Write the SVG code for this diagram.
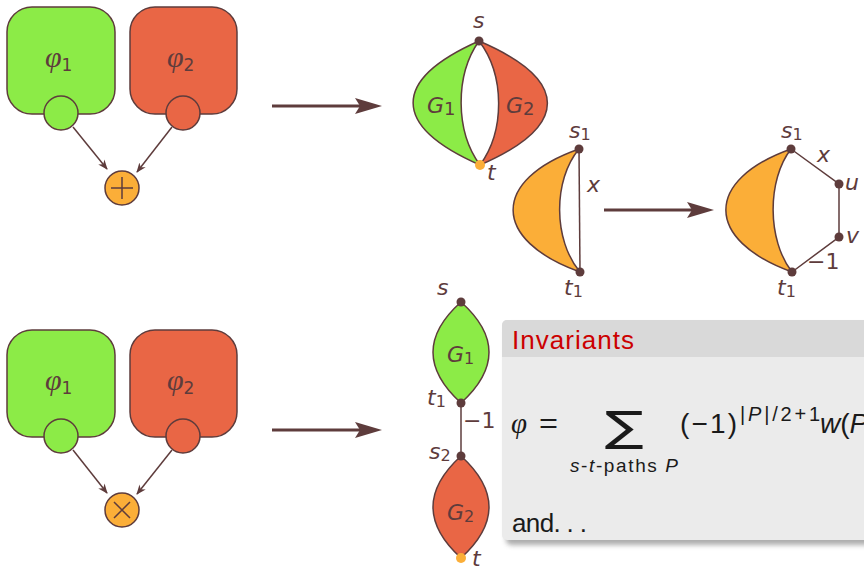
<svg xmlns="http://www.w3.org/2000/svg" width="864" height="570" viewBox="0 0 864 570">
<defs>
<style>
.st{stroke:#5e3c3c;stroke-width:1.5}
.g{fill:#8ceb47}.r{fill:#e96645}.o{fill:#fbae38}
.dot{fill:#5e3c3c}
.lab{font-family:"DejaVu Sans","Liberation Sans",sans-serif;font-style:italic;fill:#5e3c3c;font-size:22px}
.num{font-family:"DejaVu Sans","Liberation Sans",sans-serif;font-style:normal;fill:#5e3c3c}
.phi{font-family:"Liberation Serif","DejaVu Serif",serif;font-style:italic;fill:#5e3c3c;font-size:30px}
.ed{stroke:#5e3c3c;stroke-width:1.5;fill:none}
.fx{fill:#1a1a1a}
.sans{font-family:"Liberation Sans","DejaVu Sans",sans-serif}
</style>
<marker id="sm" viewBox="0 0 10 10" refX="9" refY="5" markerWidth="10" markerHeight="10" markerUnits="userSpaceOnUse" orient="auto">
<path d="M0,1 L10,5 L0,9 L3,5 Z" fill="#5e3c3c"/>
</marker>
<filter id="sh" x="-10%" y="-10%" width="130%" height="130%"><feGaussianBlur stdDeviation="2.5"/></filter>
</defs>

<g id="connectors">
<line class="ed" x1="73" y1="127" x2="107" y2="169" marker-end="url(#sm)"/>
<line class="ed" x1="172" y1="127" x2="137" y2="172" marker-end="url(#sm)"/>
<line class="ed" x1="73" y1="450" x2="107" y2="493" marker-end="url(#sm)"/>
<line class="ed" x1="172" y1="450" x2="137" y2="494" marker-end="url(#sm)"/>
<line x1="272" y1="106" x2="362" y2="106" stroke="#5e3c3c" stroke-width="3"/>
<path d="M382,106 L355,98 L360,106 L355,114 Z" fill="#5e3c3c"/>
<line x1="272" y1="430" x2="362" y2="430" stroke="#5e3c3c" stroke-width="3"/>
<path d="M382,430 L355,422 L360,430 L355,438 Z" fill="#5e3c3c"/>
<line x1="604" y1="210" x2="694" y2="210" stroke="#5e3c3c" stroke-width="3"/>
<path d="M714,210 L687,202 L692,210 L687,218 Z" fill="#5e3c3c"/>
</g>

<g id="phi1-top">
<rect x="7" y="7" width="108" height="107" rx="25" class="g st"/>
<circle cx="61" cy="113" r="17" class="g st"/>
<text x="45" y="67" class="phi">φ<tspan class="num" font-size="17" dy="4">1</tspan></text>
</g>
<g id="phi2-top">
<rect x="130" y="7" width="107" height="107" rx="25" class="r st"/>
<circle cx="183" cy="113" r="17" class="r st"/>
<text x="167" y="67" class="phi">φ<tspan class="num" font-size="17" dy="4">2</tspan></text>
</g>
<g id="plus">
<circle cx="122" cy="188" r="17" class="o st"/>
<path d="M111,188 H133 M122,177 V199" class="ed"/>
</g>

<g id="phi1-bot">
<rect x="7" y="330" width="108" height="107" rx="25" class="g st"/>
<circle cx="61" cy="436" r="17" class="g st"/>
<text x="45" y="390" class="phi">φ<tspan class="num" font-size="17" dy="4">1</tspan></text>
</g>
<g id="phi2-bot">
<rect x="130" y="330" width="107" height="107" rx="25" class="r st"/>
<circle cx="183" cy="436" r="17" class="r st"/>
<text x="167" y="390" class="phi">φ<tspan class="num" font-size="17" dy="4">2</tspan></text>
</g>
<g id="times">
<circle cx="122" cy="510" r="17" class="o st"/>
<path d="M114,502 L130,518 M130,502 L114,518" class="ed"/>
</g>

<g id="parallel">
<path d="M479,41 C391,80 391,126 480,165 C455,131 455,75 479,41 Z" class="g st"/>
<path d="M479,41 C570,80 570,126 480,165 C505,131 505,75 479,41 Z" class="r st"/>
<circle cx="479" cy="41" r="4.5" class="dot"/>
<circle cx="480" cy="165" r="5" class="o"/>
<text x="473" y="28" class="lab">s</text>
<text x="487" y="180" class="lab">t</text>
<text x="427" y="113" class="lab" font-size="27">G<tspan class="num" font-size="18" dy="2">1</tspan></text>
<text x="506" y="113" class="lab" font-size="27">G<tspan class="num" font-size="18" dy="2">2</tspan></text>
</g>

<g id="edge-left">
<path d="M579,149 C491,180 491,240 580,272 C553,240 553,180 579,149 Z" class="o st"/>
<line x1="579" y1="149" x2="580" y2="272" class="ed"/>
<circle cx="579" cy="149" r="4.5" class="dot"/>
<circle cx="580" cy="272" r="4.5" class="dot"/>
<text x="569" y="138" class="lab">s<tspan class="num" font-size="16" dy="2">1</tspan></text>
<text x="564" y="295" class="lab">t<tspan class="num" font-size="16" dy="2">1</tspan></text>
<text x="587" y="192" class="lab">x</text>
</g>

<g id="edge-right">
<path d="M791,149 C704,180 704,240 792,272 C767,240 767,180 791,149 Z" class="o st"/>
<path d="M791,149 L839,184 L839,237 L792,272" class="ed"/>
<circle cx="791" cy="149" r="4.5" class="dot"/>
<circle cx="792" cy="272" r="4.5" class="dot"/>
<circle cx="839" cy="184" r="4.5" class="dot"/>
<circle cx="839" cy="237" r="4.5" class="dot"/>
<text x="781" y="138" class="lab">s<tspan class="num" font-size="16" dy="2">1</tspan></text>
<text x="777" y="295" class="lab">t<tspan class="num" font-size="16" dy="2">1</tspan></text>
<text x="817" y="162" class="lab">x</text>
<text x="845" y="190" class="lab">u</text>
<text x="846" y="243" class="lab">v</text>
<text x="807" y="269" class="num" font-size="22">−1</text>
</g>

<g id="series">
<path d="M461,302 Q405,352 461,403 Q517,352 461,302 Z" class="g st"/>
<line x1="461" y1="403" x2="461" y2="456" class="ed"/>
<path d="M461,456 Q405,507 461,558 Q517,507 461,456 Z" class="r st"/>
<circle cx="461" cy="302" r="4.5" class="dot"/>
<circle cx="461" cy="403" r="4.5" class="dot"/>
<circle cx="461" cy="456" r="4.5" class="dot"/>
<circle cx="461" cy="558" r="5" class="o"/>
<text x="437" y="295" class="lab">s</text>
<text x="427" y="405" class="lab">t<tspan class="num" font-size="16" dy="2">1</tspan></text>
<text x="429" y="459" class="lab">s<tspan class="num" font-size="16" dy="2">2</tspan></text>
<text x="472" y="566" class="lab">t</text>
<text x="463" y="428" class="num" font-size="22">−1</text>
<text x="447" y="362" class="lab" font-size="24">G<tspan class="num" font-size="16" dy="2">1</tspan></text>
<text x="447" y="520" class="lab" font-size="24">G<tspan class="num" font-size="16" dy="2">2</tspan></text>
</g>

<g id="invariants">
<rect x="506" y="325" width="380" height="220" rx="5" fill="#8a8a8a" opacity="0.7" filter="url(#sh)"/>
<rect x="502" y="320" width="380" height="220" rx="5" fill="#ebebeb"/>
<path d="M502,357 V325 A5,5 0 0 1 507,320 H882 V357 Z" fill="#d9d9d9"/>
<text x="512" y="349" class="sans" font-size="26" fill="#cc0000" textLength="122">Invariants</text>
<text x="511" y="433" class="fx" style="font-family:'Liberation Serif',serif;font-style:italic;font-size:29px">φ</text>
<text x="539" y="433" class="fx sans" font-size="28" textLength="19" lengthAdjust="spacingAndGlyphs">=</text>
<text x="605" y="441" class="fx" style="font-family:'DejaVu Sans',sans-serif;font-size:42px" textLength="39" lengthAdjust="spacingAndGlyphs">∑</text>
<text x="570" y="472" class="fx sans" font-size="19" textLength="108"><tspan font-style="italic">s</tspan>-<tspan font-style="italic">t</tspan>-paths <tspan font-style="italic">P</tspan></text>
<text x="680" y="433" class="fx sans" font-size="28" textLength="57">(−1)</text>
<text x="740" y="421" class="fx sans" font-size="20" textLength="80">|<tspan font-style="italic">P</tspan>|/2+1</text>
<text x="820" y="433" class="fx sans" font-size="28"><tspan font-style="italic">w</tspan>(<tspan font-style="italic">P</tspan></text>
<text x="512" y="532" class="fx sans" font-size="26" textLength="75">and. . .</text>
</g>
</svg>
